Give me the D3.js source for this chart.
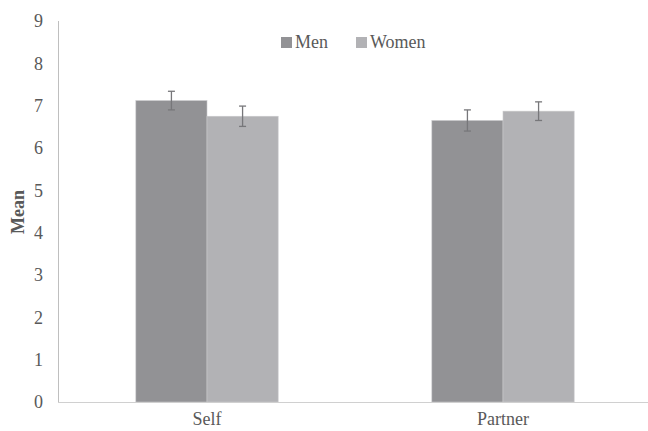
<!DOCTYPE html>
<html>
<head>
<meta charset="utf-8">
<script src="https://cdn.jsdelivr.net/npm/d3@7"></script>
<style>
html,body{margin:0;padding:0;background:#fff;}
</style>
</head>
<body>
<svg id="chart" width="648" height="431"></svg>
<script>
const categories = ["Self", "Partner"];
const seriesNames = ["Men", "Women"];
const menValues = [7.12, 6.65];
const womenValues = [6.75, 6.87];
const menErrors = [0.22, 0.25];
const womenErrors = [0.24, 0.22];
const yTicks = [0, 1, 2, 3, 4, 5, 6, 7, 8, 9];
const yLabel = "Mean";
const colors = {Men: "#929295", Women: "#b2b2b5"};
const FONT = "'Liberation Serif', 'Times New Roman', Times, serif";

const svg = d3.select("#chart");

const y = d3.scaleLinear().domain([0, 9]).range([402, 21]);
const x0 = d3.scaleBand().domain(categories).range([59, 651]).padding(0);
const x1 = d3.scaleBand().domain(seriesNames)
  .range([0, x0.bandwidth()]).paddingOuter(1.08).paddingInner(0);

const data = categories.map((c, i) => ({
  cat: c,
  vals: [
    {s: "Men", v: menValues[i], e: menErrors[i]},
    {s: "Women", v: womenValues[i], e: womenErrors[i]}
  ]
}));

svg.append("line").attr("x1", 58.5).attr("x2", 58.5).attr("y1", y(9)).attr("y2", y(0))
  .attr("stroke", "#bfbfbf").attr("stroke-width", 1);

const groups = svg.append("g").selectAll("g.cat").data(data).join("g")
  .attr("transform", d => `translate(${x0(d.cat)},0)`);
groups.selectAll("rect").data(d => d.vals).join("rect")
  .attr("x", d => x1(d.s))
  .attr("width", x1.bandwidth())
  .attr("y", d => y(d.v))
  .attr("height", d => y(0) - y(d.v))
  .attr("fill", d => colors[d.s])
  .attr("stroke", "#c9c9cb").attr("stroke-width", 0.6);

const eb = groups.selectAll("g.err").data(d => d.vals).join("g")
  .attr("stroke", "#77777a").attr("stroke-width", 1.3);
const cx = d => x1(d.s) + x1.bandwidth() / 2;
eb.append("line").attr("x1", cx).attr("x2", cx)
  .attr("y1", d => y(d.v + d.e)).attr("y2", d => y(d.v - d.e));
eb.append("line").attr("x1", d => cx(d) - 3.5).attr("x2", d => cx(d) + 3.5)
  .attr("y1", d => y(d.v + d.e)).attr("y2", d => y(d.v + d.e));
eb.append("line").attr("x1", d => cx(d) - 3.5).attr("x2", d => cx(d) + 3.5)
  .attr("y1", d => y(d.v - d.e)).attr("y2", d => y(d.v - d.e));

svg.append("line").attr("x1", 58).attr("x2", 648).attr("y1", 402.5).attr("y2", 402.5)
  .attr("stroke", "#d0d0d0").attr("stroke-width", 1);

const ya = svg.append("g").attr("transform", "translate(58,0)")
  .call(d3.axisLeft(y).tickValues(yTicks).tickSize(0).tickPadding(15))
  .attr("font-family", FONT).attr("font-size", 18);
ya.select(".domain").remove();
ya.selectAll("text").attr("fill", "#595959").style("font-family", FONT);

const xa = svg.append("g").attr("transform", "translate(0,402)")
  .call(d3.axisBottom(x0).tickSize(0).tickPadding(10))
  .attr("font-family", FONT).attr("font-size", 18);
xa.select(".domain").remove();
xa.selectAll("text").attr("fill", "#595959").style("font-family", FONT);

svg.append("text").attr("transform", "translate(24,212) rotate(-90)")
  .attr("text-anchor", "middle").attr("font-size", 18).attr("font-weight", "bold")
  .style("font-family", FONT).attr("fill", "#595959").text(yLabel);

const legendX = [281, 356];
const leg = svg.append("g").selectAll("g").data(seriesNames).join("g")
  .attr("transform", (d, i) => `translate(${legendX[i]},37)`);
leg.append("rect").attr("width", 11).attr("height", 11).attr("fill", d => colors[d]);
leg.append("text").attr("x", 14).attr("y", 11).attr("font-size", 18)
  .style("font-family", FONT).attr("fill", "#595959").text(d => d);
</script>
</body>
</html>
